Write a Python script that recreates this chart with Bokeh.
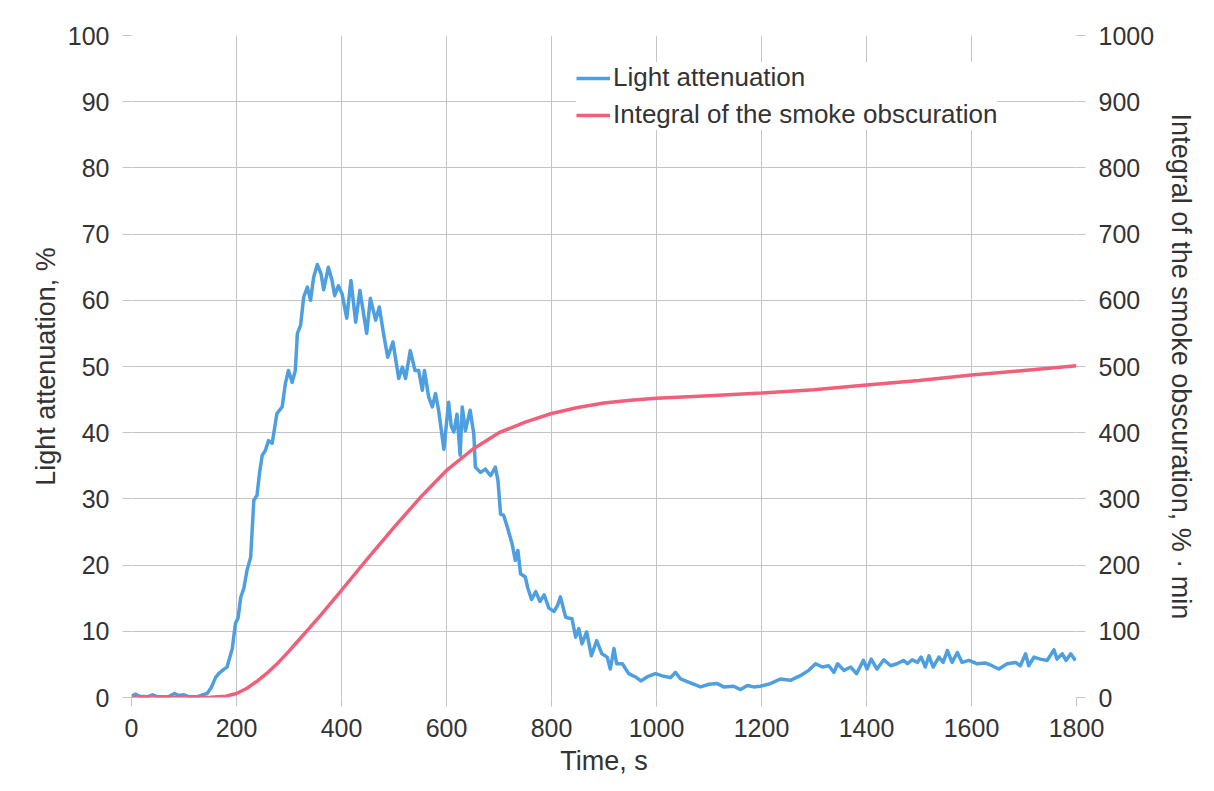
from bokeh.plotting import figure
from bokeh.models import Range1d, LinearAxis, FixedTicker, Legend, LegendItem
from bokeh.embed import file_html
from bokeh.resources import INLINE

# Light attenuation, % (left axis)
light_t = [0, 8, 15, 30, 40, 50, 70, 82, 90, 100, 110, 125, 135, 144, 152, 160, 166, 175, 182, 192,
           198, 203, 208, 214, 220, 227, 233, 239, 244, 249, 255, 261, 268, 277, 287, 293, 299, 306,
           312, 316, 322, 328, 335, 341, 347, 354, 361, 366, 375, 382, 387, 394, 401, 410, 418, 427,
           435, 448, 455, 465, 472, 480, 488, 498, 509, 516, 522, 531, 540, 547, 554, 558, 566, 573,
           579, 585, 595, 604, 609, 614, 620, 626, 630, 636, 645, 652, 655, 665, 674, 684, 693, 698,
           703, 709, 716, 725, 731, 736, 741, 750, 755, 762, 770, 778, 786, 795, 805, 812, 817, 827,
           839, 846, 852, 858, 867, 876, 886, 896, 906, 912, 919, 924, 935, 947, 960, 970, 982, 998,
           1014, 1027, 1036, 1046, 1062, 1084, 1100, 1116, 1128, 1147, 1160, 1173, 1185, 1198, 1217,
           1236, 1255, 1274, 1290, 1303, 1316, 1328, 1338, 1345, 1357, 1370, 1381, 1394, 1401, 1409,
           1420, 1433, 1446, 1458, 1471, 1478, 1487, 1497, 1504, 1512, 1519, 1527, 1538, 1546, 1554,
           1563, 1573, 1582, 1595, 1610, 1627, 1639, 1652, 1668, 1684, 1693, 1703, 1709, 1719, 1731,
           1744, 1757, 1763, 1773, 1780, 1789, 1798]
light_v = [0.2, 0.5, 0.2, 0.1, 0.4, 0.1, 0.1, 0.6, 0.3, 0.4, 0.1, 0.1, 0.4, 0.6, 1.5, 3.0, 3.6, 4.2, 4.6, 7.4,
           11.2, 12.0, 15.1, 16.5, 19.2, 21.2, 29.8, 30.5, 34.0, 36.6, 37.3, 38.8, 38.4, 42.9, 43.9, 47.4, 49.4, 47.6,
           49.4, 55.0, 56.2, 60.5, 62.0, 60.0, 63.5, 65.4, 64.0, 61.6, 65.0, 63.0, 60.7, 62.2, 61.0, 57.3, 63.0, 56.7,
           61.5, 55.0, 60.3, 57.0, 59.0, 55.0, 51.4, 53.7, 48.2, 49.9, 48.2, 52.4, 49.4, 49.4, 46.4, 49.4, 45.4, 43.9,
           45.9, 43.4, 37.5, 44.6, 41.0, 40.1, 42.8, 36.6, 43.9, 40.3, 43.4, 39.8, 34.8, 34.0, 34.5, 33.5, 34.8, 32.8,
           27.7, 27.5, 25.7, 23.2, 20.7, 22.2, 18.7, 18.2, 16.5, 14.8, 16.0, 14.5, 15.5, 13.5, 13.0, 14.0, 15.2, 12.1,
           11.9, 9.1, 10.4, 8.1, 9.9, 6.3, 8.6, 6.6, 6.1, 4.3, 7.4, 5.1, 5.1, 3.6, 3.1, 2.5, 3.1, 3.6,
           3.2, 3.0, 3.8, 2.8, 2.3, 1.6, 2.0, 2.1, 1.6, 1.7, 1.2, 1.8, 1.6, 1.7, 2.1,
           2.8, 2.6, 3.3, 4.1, 5.1, 4.6, 4.8, 3.8, 5.1, 4.1, 4.6, 3.6, 5.6, 4.3, 5.8,
           4.3, 5.7, 4.8, 5.1, 5.6, 5.1, 5.7, 5.3, 6.1, 4.6, 6.3, 4.6, 6.1, 5.3, 7.1,
           5.3, 6.8, 5.3, 5.6, 5.1, 5.2, 4.8, 4.3, 5.1, 5.3, 4.8, 6.6, 4.8, 6.1, 5.8,
           5.6, 7.2, 5.8, 6.6, 5.6, 6.6, 5.6]

# Integral of the smoke obscuration, % * min (right axis)
integ_t = [0, 100, 150, 180, 200, 220, 240, 260, 280, 300, 320, 340, 360, 380, 400, 450, 500, 550, 600,
           650, 700, 750, 800, 850, 900, 950, 1000, 1100, 1200, 1300, 1400, 1500, 1600, 1700, 1800]
integ_v = [0, 0, 0.5, 2, 6, 14, 25, 38, 53, 70, 88, 106, 124, 143, 162, 210, 257, 302, 343,
           375, 400, 416, 429, 438, 445, 449, 452, 456, 460, 465, 472, 479, 487, 494, 501]

x_ticks = [0, 200, 400, 600, 800, 1000, 1200, 1400, 1600, 1800]
left_ticks = [0, 10, 20, 30, 40, 50, 60, 70, 80, 90, 100]
right_ticks = [0, 100, 200, 300, 400, 500, 600, 700, 800, 900, 1000]

FONT = "Liberation Sans"
TXT = "#333333"
GRID = "#c4c4c4"

p = figure(width=1206, height=783, output_backend="svg", toolbar_location=None,
           x_range=Range1d(0, 1800), y_range=Range1d(0, 100),
           min_border_left=131, min_border_right=130, min_border_top=35, min_border_bottom=86)
p.extra_y_ranges = {"integ": Range1d(0, 1000)}
p.outline_line_color = None
p.background_fill_color = "white"

# grids
p.xgrid.ticker = FixedTicker(ticks=x_ticks)
p.ygrid.ticker = FixedTicker(ticks=left_ticks)
for g in (p.xgrid, p.ygrid):
    g.grid_line_color = GRID
    g.grid_line_width = 1

def style_axis(ax):
    ax.axis_line_color = None
    ax.major_tick_line_color = GRID
    ax.major_tick_out = 9
    ax.major_tick_in = 0
    ax.minor_tick_line_color = None
    ax.major_label_text_font = FONT
    ax.major_label_text_font_size = "25px"
    ax.major_label_text_color = TXT
    ax.axis_label_text_font = FONT
    ax.axis_label_text_font_size = "27px"
    ax.axis_label_text_color = TXT
    ax.axis_label_text_font_style = "normal"

p.xaxis.ticker = FixedTicker(ticks=x_ticks)
p.xaxis.axis_label = "Time, s"
p.xaxis.major_label_standoff = 12
p.xaxis.axis_label_standoff = 6
style_axis(p.xaxis[0])

p.yaxis.ticker = FixedTicker(ticks=left_ticks)
p.yaxis.axis_label = "Light attenuation, %"
p.yaxis.major_label_standoff = 13
p.yaxis.axis_label_standoff = 4
style_axis(p.yaxis[0])

rax = LinearAxis(y_range_name="integ", ticker=FixedTicker(ticks=right_ticks),
                 axis_label="Integral of the smoke obscuration, % \u00b7 min")
rax.major_label_standoff = 13
rax.axis_label_standoff = 9
style_axis(rax)
p.add_layout(rax, "right")

blue = p.line(light_t, light_v, line_color="#4d9fe0", line_width=3.5, line_join="round")
red = p.line(integ_t, integ_v, y_range_name="integ", line_color="#f0607a", line_width=3.5)

legend = Legend(items=[LegendItem(label="Light attenuation", renderers=[blue]),
                       LegendItem(label="Integral of the smoke obscuration", renderers=[red])],
                location=(445, 567), orientation="vertical")
legend.border_line_color = None
legend.background_fill_color = "white"
legend.background_fill_alpha = 1
legend.margin = 0
legend.padding = 5
legend.spacing = 6
legend.glyph_width = 34
legend.glyph_height = 30
legend.label_height = 30
legend.label_standoff = 3
legend.label_text_font = FONT
legend.label_text_font_size = "26px"
legend.label_text_color = TXT
p.add_layout(legend, "center")

open("out.html", "w").write(file_html(p, INLINE))
